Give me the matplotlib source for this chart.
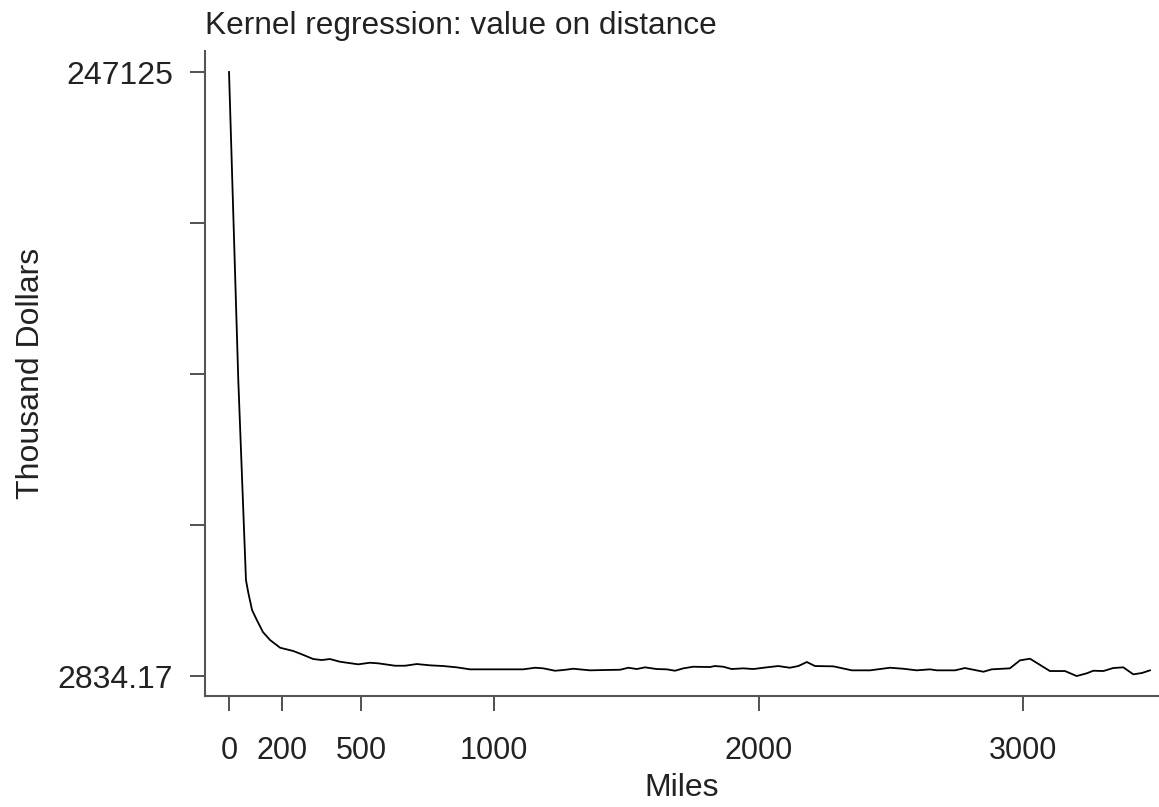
import matplotlib
matplotlib.use("Agg")
import matplotlib.pyplot as plt
import numpy as np

plt.rcParams["font.family"] = ["Liberation Sans", "DejaVu Sans"]

# kernel regression fit: miles -> thousand dollars
miles = [0, 35, 64, 73, 87, 105, 128, 155, 193, 243, 275, 318, 350, 381, 419,
         488, 532, 564, 627, 665, 709, 759, 809, 860, 910, 960, 1017, 1111,
         1156, 1187, 1231, 1262, 1300, 1363, 1414, 1477, 1508, 1540, 1571,
         1615, 1653, 1684, 1716, 1753, 1816, 1835, 1867, 1898, 1942, 1980,
         2031, 2074, 2118, 2150, 2182, 2213, 2282, 2352, 2421, 2496, 2546,
         2597, 2647, 2673, 2742, 2779, 2849, 2880, 2949, 2987, 3025, 3100,
         3157, 3201, 3239, 3264, 3302, 3339, 3377, 3415, 3447, 3478]
value = [247125, 122551, 41661, 36403, 29528, 25483, 20630, 17394, 14280,
         12945, 11611, 9710, 9305, 9710, 8618, 7566, 8213, 7971, 7000, 7000,
         7687, 7162, 6879, 6353, 5544, 5544, 5544, 5544, 6191, 5948, 4978,
         5261, 5787, 5139, 5261, 5382, 6191, 5665, 6353, 5665, 5544, 4978,
         5948, 6595, 6474, 6879, 6595, 5665, 5948, 5665, 6353, 6879, 6191,
         6879, 8496, 6879, 6757, 5139, 5139, 6191, 5787, 5139, 5544, 5139,
         5139, 6070, 4573, 5544, 5948, 9184, 9831, 4856, 4856, 2834.17, 3926,
         4978, 4856, 6070, 6353, 3522, 4047, 5139]

x_ticks = [0, 200, 500, 1000, 2000, 3000]
y_min, y_max = 2834.17, 247125
y_ticks = np.linspace(y_min, y_max, 5)
y_labels = ["2834.17", "", "", "", "247125"]

fig = plt.figure(figsize=(11.59, 8.07), dpi=100)
ax = fig.add_axes([0.1769, 0.1375, 0.8231, 0.7993])

ax.plot(miles, value, color="black", linewidth=1.3)

ax.set_xlim(-90.6, 3512)
ax.set_ylim(-5255, 255618)

for side in ("top", "right"):
    ax.spines[side].set_visible(False)
for side in ("left", "bottom"):
    ax.spines[side].set_color("#555555")
    ax.spines[side].set_linewidth(1.5)

ax.set_xticks(x_ticks)
ax.set_xticklabels([str(t) for t in x_ticks])
ax.set_yticks(y_ticks)
ax.set_yticklabels(y_labels)
ax.tick_params(axis="both", length=11, width=1.2, color="#333333",
               labelcolor="#222222")
ax.tick_params(axis="x", labelsize=22, pad=18)
ax.tick_params(axis="y", labelsize=23, pad=12)

ax.set_xlabel("Miles", fontsize=23, color="#222222", labelpad=5)
ax.set_ylabel("Thousand Dollars", fontsize=23, color="#222222", labelpad=8)
ax.set_title("Kernel regression: value on distance", loc="left",
             fontsize=22.8, color="#222222", pad=12)

fig.savefig("out.png", dpi=100)
